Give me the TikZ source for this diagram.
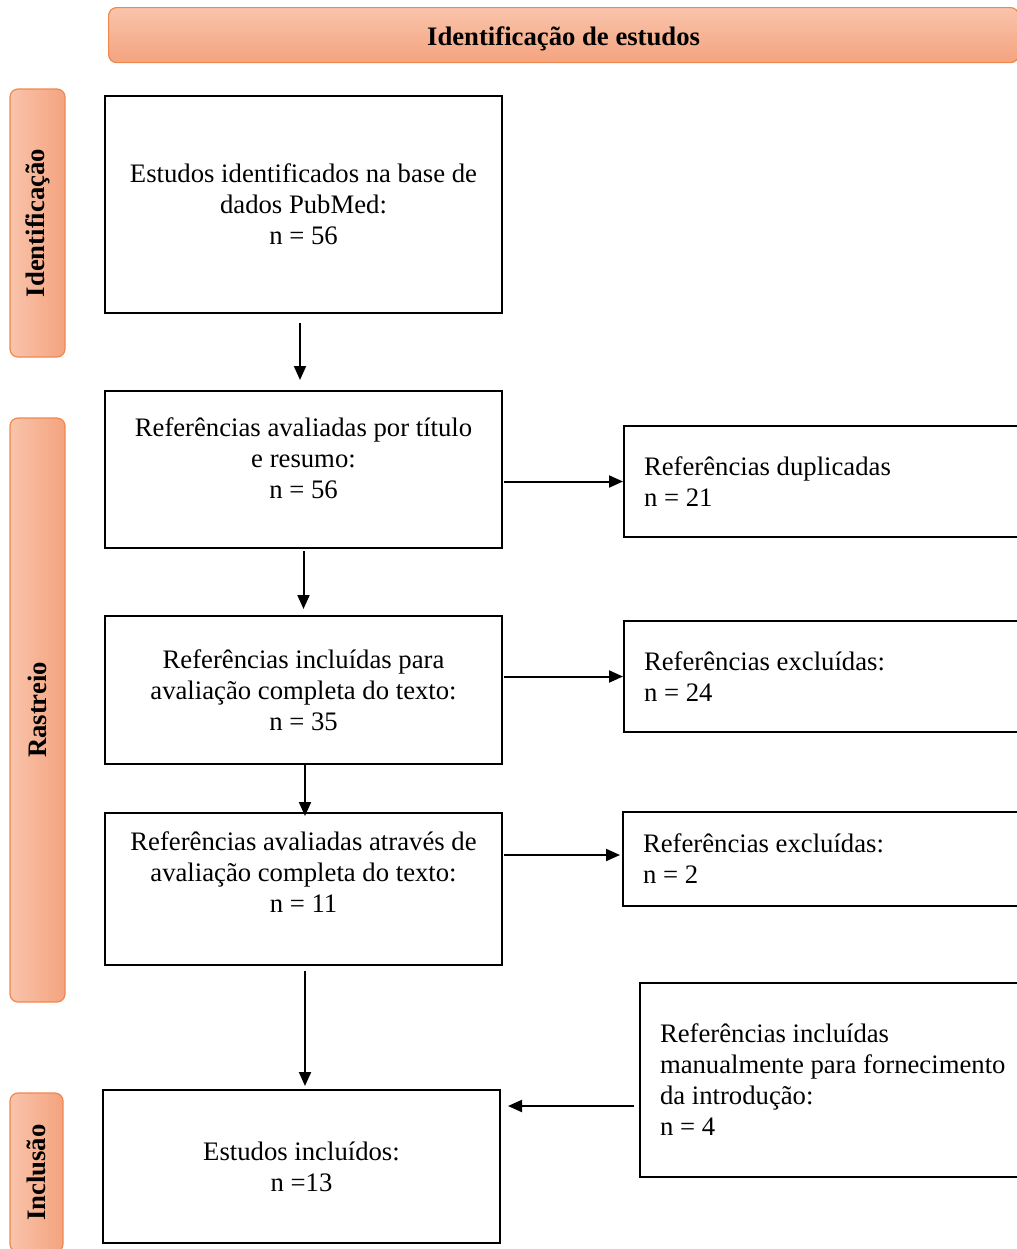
\documentclass[tikz,border=0pt]{standalone}
\usepackage{fontspec}
\setmainfont{Liberation Serif}
\usetikzlibrary{arrows.meta,positioning,calc}
\definecolor{bandlight}{RGB}{249,196,171}
\definecolor{banddark}{RGB}{244,163,127}
\definecolor{bandline}{RGB}{240,136,78}

\begin{document}
\begin{tikzpicture}[x=0.5pt, y=-0.5pt,
  every node/.style={font=\fontsize{13.35pt}{15.5pt}\selectfont},
  lbox/.style={rectangle, draw, line width=1pt, minimum width=198.5pt, inner sep=0pt, align=center},
  rbox/.style={rectangle, draw, line width=1pt, minimum width=210pt, text width=190pt, inner xsep=8.5pt, align=flush left, anchor=west},
  band/.style={rectangle, draw=bandline, line width=0.6pt, rounded corners=4pt, inner sep=0pt, font=\fontsize{13.35pt}{15.5pt}\selectfont\bfseries},
  sideband/.style={band, left color=bandlight, right color=banddark, minimum width=27.5pt},
  arr/.style={-{Triangle[length=7pt, width=6pt]}, line width=1pt}
]
  \useasboundingbox (0,0) rectangle (1017,1249);
  \clip (0,0) rectangle (1017,1249);

  % header and phase bands
  \node[band, top color=bandlight, bottom color=banddark, minimum width=455pt, minimum height=27.5pt, anchor=north west] (hdr) at (108,7) {\raisebox{-2pt}[\height][\depth]{Identificação de estudos}};
  \node[sideband, minimum height=134pt] (ident) at (37.5,223) {\rotatebox{90}{Identificação}};
  \node[sideband, minimum height=292pt] (rast) at (37.5,710) {\rotatebox{90}{Rastreio}};
  \node[sideband, minimum width=26.5pt, minimum height=79.5pt] (incl) at (36.5,1172.5) {\rotatebox{90}{Inclusão}};

  % main column
  \node[lbox, minimum height=108.5pt] (b1) at (303.5,204.5) {Estudos identificados na base de\\dados PubMed:\\n = 56};
  \node[lbox, minimum height=78.5pt] (b2) at (303.5,469.5) {};
  \node[align=center, inner sep=0pt] (b2t) at ([yshift=5.5pt]b2.center) {Referências avaliadas por título\\e resumo:\\n = 56};
  \node[lbox, minimum height=74pt] (b3) at (303.5,690) {Referências incluídas para\\avaliação completa do texto:\\n = 35};
  \node[lbox, minimum height=76pt] (b4) at (303.5,889) {};
  \node[align=center, inner sep=0pt] (b4t) at ([yshift=8.5pt]b4.center) {Referências avaliadas através de\\avaliação completa do texto:\\n = 11};
  \node[lbox, minimum height=76.5pt] (b5) at (301.5,1166.5) {Estudos incluídos:\\n =13};

  % side column
  \node[rbox, minimum height=55.5pt] (r1) at (623,481.5) {Referências duplicadas\\n = 21};
  \node[rbox, minimum height=55.5pt] (r2) at (623,676.5) {Referências excluídas:\\n = 24};
  \node[rbox, minimum height=47pt] (r3) at (622,859) {Referências excluídas:\\n = 2};
  \node[rbox, minimum height=97pt] (r4) at (639,1080) {Referências incluídas\\manualmente para fornecimento\\da introdução:\\n = 4};

  \draw[arr, shorten <=4.5pt, shorten >=5pt] ([xshift=-1.75pt]b1.south) -- ([xshift=-1.75pt]b2.north);
  \draw[arr, shorten <=1pt, shorten >=3pt] (b2.south) -- (b3.north);
  \draw[arr, shorten <=-1pt, shorten >=-2pt] ([xshift=0.75pt]b3.south) -- ([xshift=0.75pt]b4.north);
  \draw[arr, shorten <=2.5pt, shorten >=1.5pt] ([xshift=0.75pt]b4.south) -- ([xshift=0.75pt]b4.south |- b5.north);

  \draw[arr, shorten <=0.5pt] (b2.east |- r1.west) -- (r1.west);
  \draw[arr, shorten <=0.5pt] (b3.east |- r2.west) -- (r2.west);
  \draw[arr, shorten <=0.5pt, shorten >=1pt] ([yshift=2pt]b4.east |- r3.west) -- ([yshift=2pt]r3.west);
  \draw[arr, shorten <=2.5pt, shorten >=3.5pt] ([yshift=-13pt]r4.west) -- ([yshift=-13pt]r4.west -| b5.east);
\end{tikzpicture}
\end{document}
